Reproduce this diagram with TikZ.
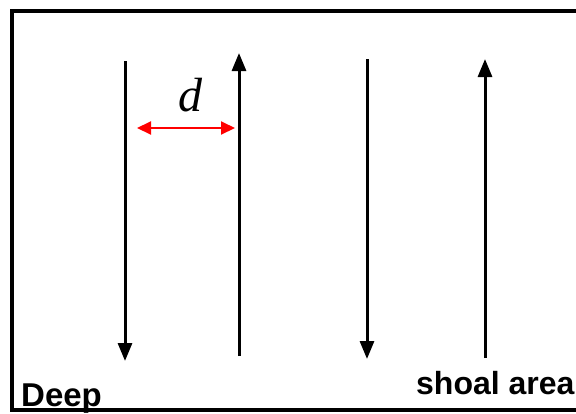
\documentclass[tikz,border=0pt]{standalone}
\usepackage{fontspec}
\setmainfont{Liberation Sans}
\newfontfamily\dserif{Liberation Serif}
\usetikzlibrary{arrows.meta}
\begin{document}
\begin{tikzpicture}[x=1pt,y=-1pt,
  flow/.style={line width=3pt,-{Triangle[length=18pt,width=14pt]}},
  gap/.style={red,line width=2pt,{Triangle[length=14pt,width=13pt]}-{Triangle[length=14pt,width=13pt]}},
  lbl/.style={inner sep=0pt,font=\fontsize{33}{36}\selectfont\bfseries}]
\useasboundingbox (0,0) rectangle (576,413);
\fill[white] (0,0) rectangle (576,413);
% frame
\draw[line width=4pt] (600,11) -- (12,11) -- (12,410) -- (600,410);
% flow lines
\coordinate (a1) at (125,61); \coordinate (b1) at (125,361);
\coordinate (a2) at (239,356); \coordinate (b2) at (239,53);
\coordinate (a3) at (367,59); \coordinate (b3) at (367,359);
\coordinate (a4) at (485,358); \coordinate (b4) at (485,59);
\draw[flow] (a1) -- (b1);
\draw[flow] (a2) -- (b2);
\draw[flow] (a3) -- (b3);
\draw[flow] (a4) -- (b4);
% spacing
\coordinate (d1) at (137,128); \coordinate (d2) at (235,128);
\draw[gap] (d1) -- (d2);
\node[inner sep=0pt] (dl) at (190,95) {\fontsize{48}{52}\selectfont\dserif\itshape d};
% labels
\node[lbl,anchor=base west] (deep) at (21,406) {Deep};
\node[lbl,anchor=base west,font=\fontsize{32}{36}\selectfont\bfseries] (shoal) at (416,394) {shoal area};
\end{tikzpicture}
\end{document}
